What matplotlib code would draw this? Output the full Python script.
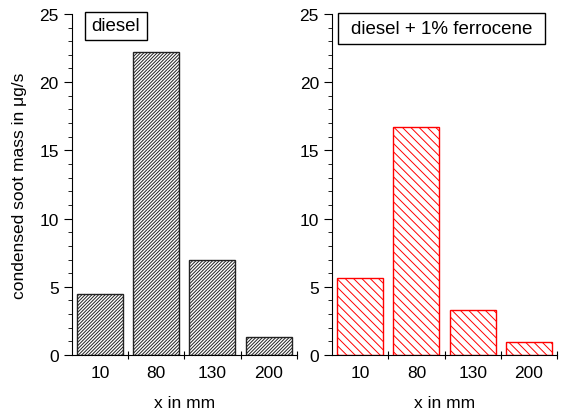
import matplotlib.pyplot as plt
import numpy as np
from matplotlib.patches import Rectangle
from matplotlib.ticker import MultipleLocator

plt.rcParams['font.family'] = ['Liberation Sans', 'DejaVu Sans']
plt.rcParams['hatch.linewidth'] = 0.7

positions = ["10", "80", "130", "200"]
diesel = [4.5, 22.2, 7.0, 1.3]
ferrocene = [5.65, 16.7, 3.3, 0.95]


def panel(ax, values, color, hatch, label, box):
    x = np.arange(len(values))
    plt.rcParams['hatch.color'] = color
    ax.bar(x, values, width=0.82, facecolor='white', edgecolor=color,
           hatch=hatch, linewidth=1.0)
    ax.set_xlim(-0.5, 3.5)
    ax.set_ylim(0, 25)
    ax.spines['top'].set_visible(False)
    ax.spines['right'].set_visible(False)
    ax.set_xticks(x + 0.5, minor=False)
    ax.set_xticklabels([])
    ax.set_xticks(x, minor=True)
    ax.set_xticklabels(positions, minor=True, fontsize=12.5)
    ax.tick_params(axis='x', which='major', direction='inout', length=6)
    ax.tick_params(axis='x', which='minor', length=0, pad=7)
    ax.yaxis.set_major_locator(MultipleLocator(5))
    ax.yaxis.set_minor_locator(MultipleLocator(1))
    ax.tick_params(axis='y', which='major', length=6, labelsize=12.5)
    ax.tick_params(axis='y', which='minor', length=3)
    ax.set_xlabel("x in mm", fontsize=12.5, labelpad=11)
    # legend-like label box
    x0, y0, x1, y1 = box
    ax.add_patch(Rectangle((x0, y0), x1 - x0, y1 - y0, transform=ax.transAxes,
                           facecolor='white', edgecolor='black', linewidth=1.0,
                           clip_on=False, zorder=5))
    ax.text((x0 + x1) / 2, (y0 + y1) / 2, label, transform=ax.transAxes,
            fontsize=13.5, va='center', ha='center', zorder=6)


fig = plt.figure(figsize=(5.62, 4.14), dpi=100)
ax1 = fig.add_axes([0.128, 0.140, 0.400, 0.824])
ax2 = fig.add_axes([0.591, 0.140, 0.400, 0.824])

panel(ax1, diesel, '#222222', '//////////', "diesel",
      (0.058, 0.924, 0.333, 1.006))
panel(ax2, ferrocene, 'red', '\\\\\\\\', "diesel + 1% ferrocene",
      (0.027, 0.912, 0.947, 1.003))
ax1.set_ylabel("condensed soot mass in μg/s", fontsize=12.5, labelpad=9)

fig.savefig("out.png", dpi=100)
